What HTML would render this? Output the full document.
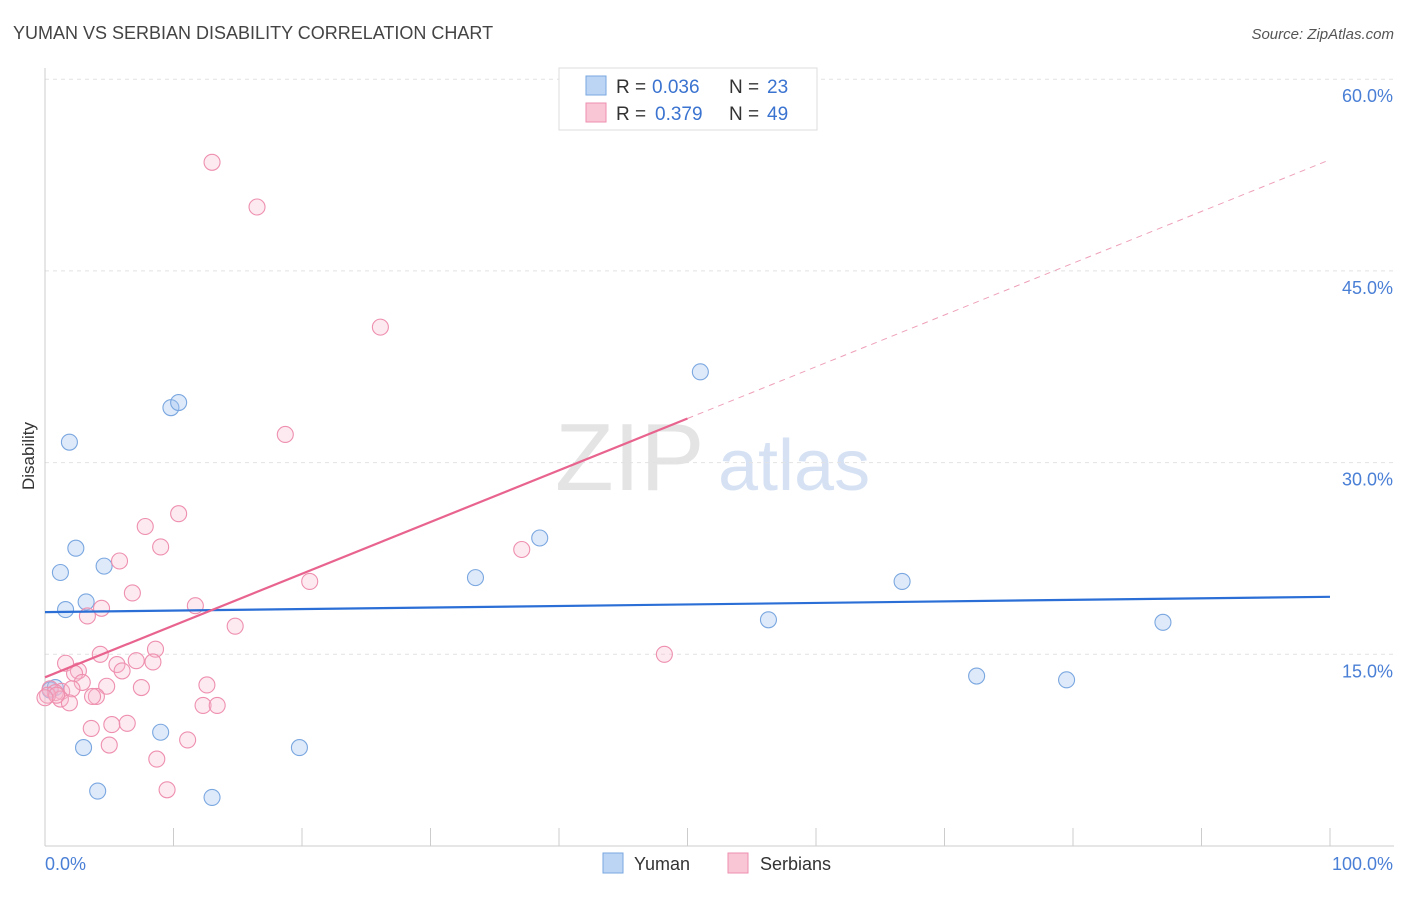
<!DOCTYPE html>
<html><head><meta charset="utf-8"><style>
body{margin:0;background:#fff;font-family:"Liberation Sans",sans-serif}
svg text{font-family:"Liberation Sans",sans-serif}
</style></head><body>
<svg width="1406" height="892" xmlns="http://www.w3.org/2000/svg" id="c">
<text x="13" y="39" font-size="18" fill="#444">YUMAN VS SERBIAN DISABILITY CORRELATION CHART</text>
<text x="1394" y="39" font-size="15" fill="#555" text-anchor="end" font-style="italic">Source: ZipAtlas.com</text>
<text transform="translate(34,456) rotate(-90)" font-size="17" fill="#333" text-anchor="middle">Disability</text>
<text x="555" y="490" font-size="96" fill="#e4e4e4" font-family="Liberation Serif">ZIP</text>
<text x="718" y="490" font-size="72" fill="#d6e2f4">atlas</text>
<g id="grid"></g><g id="marks"></g>
<g>
<rect x="559" y="68" width="258" height="62" fill="#fff" stroke="#ddd"/>
<rect x="586" y="76" width="20" height="19" fill="#bcd5f5" stroke="#7aa7e0"/>
<rect x="586" y="103" width="20" height="19" fill="#f9c6d6" stroke="#ee8fae"/>
<text x="616" y="93" font-size="19" fill="#333">R =</text>
<text x="652" y="93" font-size="19" fill="#3a73d0">0.036</text>
<text x="729" y="93" font-size="19" fill="#333">N =</text>
<text x="767" y="93" font-size="19" fill="#3a73d0">23</text>
<text x="616" y="120" font-size="19" fill="#333">R =</text>
<text x="655" y="120" font-size="19" fill="#3a73d0">0.379</text>
<text x="729" y="120" font-size="19" fill="#333">N =</text>
<text x="767" y="120" font-size="19" fill="#3a73d0">49</text>
</g>
<g>
<rect x="603" y="853" width="20" height="20" fill="#bcd5f5" stroke="#7aa7e0"/>
<text x="634" y="870" font-size="18" fill="#333">Yuman</text>
<rect x="728" y="853" width="20" height="20" fill="#f9c6d6" stroke="#ee8fae"/>
<text x="760" y="870" font-size="18" fill="#333">Serbians</text>
</g>
</svg>
<script>
const yTicks=[15,30,45,60];
const yTickLabels=["15.0%","30.0%","45.0%","60.0%"];
const yumanX=[1.9,1.2,2.4,1.6,3.2,4.6,3.0,4.1,9.0,9.8,10.4,13.0,19.8,33.5,38.5,51.0,56.3,66.7,72.5,79.5,87.0,0.4,0.8];
const yumanY=[31.6,21.4,23.3,18.5,19.1,21.9,7.7,4.3,8.9,34.3,34.7,3.8,7.7,21.0,24.1,37.1,17.7,20.7,13.3,13.0,17.5,12.2,12.4];
const serbX=[13.0,16.5,26.1,18.7,10.4,7.8,9.0,5.8,6.8,4.4,3.3,11.7,14.8,20.6,37.1,48.2,8.6,4.3,1.6,2.6,2.3,5.6,7.1,8.4,6.0,2.9,4.8,7.5,4.0,3.7,12.6,1.3,2.1,0.4,0.8,1.2,1.9,12.3,13.4,3.6,5.2,11.1,6.4,5.0,8.7,9.5,0.2,0.9,0.0];
const serbY=[53.5,50.0,40.6,32.2,26.0,25.0,23.4,22.3,19.8,18.6,18.0,18.8,17.2,20.7,23.2,15.0,15.4,15.0,14.3,13.7,13.5,14.2,14.5,14.4,13.7,12.8,12.5,12.4,11.7,11.7,12.6,12.1,12.3,12.3,12.0,11.5,11.2,11.0,11.0,9.2,9.5,8.3,9.6,7.9,6.8,4.4,11.8,11.8,11.6];
const yumanTrend=[18.3,19.5];
const serbTrend=[13.2,53.7];
const X=v=>45+v*12.85, Y=v=>846-v*12.78;
const NS="http://www.w3.org/2000/svg";
const grid=document.getElementById('grid'),marks=document.getElementById('marks');
function mk(tag,at,parent){const e=document.createElementNS(NS,tag);for(const k in at)e.setAttribute(k,at[k]);parent.appendChild(e);return e;}
yTicks.forEach((t,i)=>{
 const l=mk('line',{x1:45,x2:1394,y1:Y(t),y2:Y(t),stroke:'#e2e2e2','stroke-dasharray':'4,4'},grid);
 
 
 const tx=mk('text',{x:1393,y:Y(t)+23,'font-size':18,fill:'#4a7fd6','text-anchor':'end'},grid);
 tx.textContent=yTickLabels[i];
 
 
});
const ax=mk('line',{x1:45,x2:1394,y1:846,y2:846,stroke:'#ccc'},grid);


const ay=mk('line',{x1:45,x2:45,y1:68,y2:846,stroke:'#ccc'},grid);


for(let i=0;i<=10;i++){const t=mk('line',{x1:X(i*10),x2:X(i*10),y1:828,y2:846,stroke:'#ccc'},grid);
 
 }
[["0.0%",45,'start'],["100.0%",1393,'end']].forEach(a=>{const t=mk('text',{x:a[1],y:870,'font-size':18,fill:'#4a7fd6','text-anchor':a[2]},grid);t.textContent=a[0];
 
 });
yumanX.forEach((v,i)=>{const c=mk('circle',{cx:X(v),cy:Y(yumanY[i]),r:8,fill:'rgba(160,195,240,0.35)',stroke:'#7aa7e0','stroke-width':1.1},marks);
 
 });
serbX.forEach((v,i)=>{const c=mk('circle',{cx:X(v),cy:Y(serbY[i]),r:8,fill:'rgba(248,185,205,0.3)',stroke:'#ee8fae','stroke-width':1.1},marks);
 
 });
const sy=x=>serbTrend[0]+(serbTrend[1]-serbTrend[0])*x/100;
const l1=mk('line',{x1:X(0),y1:Y(yumanTrend[0]),x2:X(100),y2:Y(yumanTrend[1]),stroke:'#2b6fd6','stroke-width':2.2},marks);


const l2=mk('line',{x1:X(0),y1:Y(sy(0)),x2:X(50),y2:Y(sy(50)),stroke:'#e8648f','stroke-width':2.2},marks);


const l3=mk('line',{x1:X(50),y1:Y(sy(50)),x2:X(100),y2:Y(sy(100)),stroke:'#eea0b8','stroke-width':1,'stroke-dasharray':'6,5'},marks);


</script>
</body></html>
